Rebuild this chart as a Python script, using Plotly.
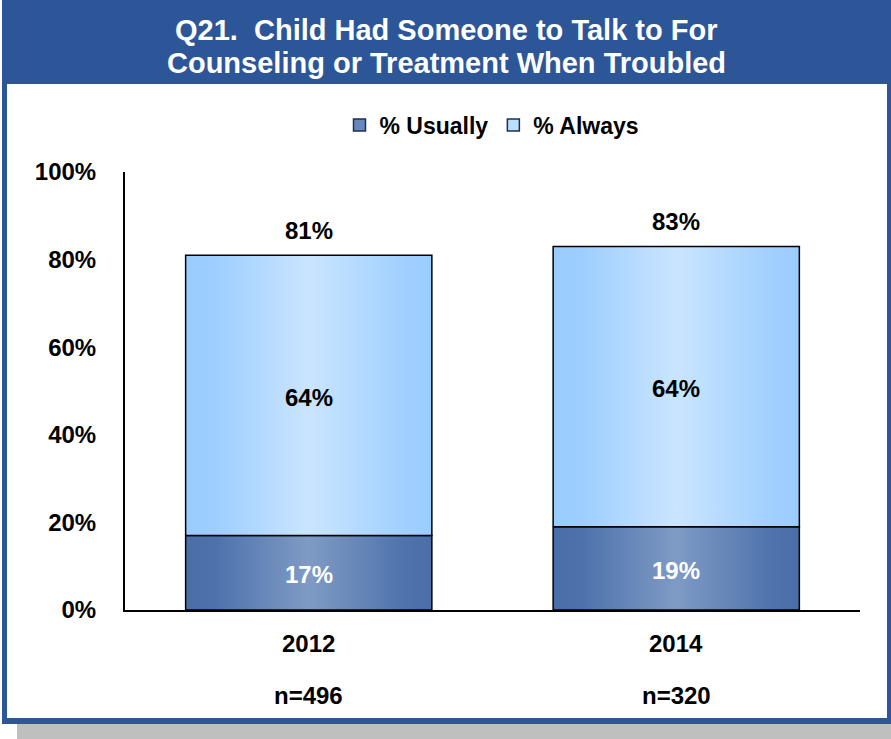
import plotly.graph_objects as go

# ---- data -------------------------------------------------------------
years = ["2012", "2014"]
sample_sizes = ["n=496", "n=320"]
pct_usually = [17, 19]
pct_always = [64, 64]
y_ticks = [0, 20, 40, 60, 80, 100]
y_tick_labels = ["0%", "20%", "40%", "60%", "80%", "100%"]
series_names = ["% Usually", "% Always"]
title_lines = ["Q21.  Child Had Someone to Talk to For",
               "Counseling or Treatment When Troubled"]

# ---- page geometry -----------------------------------------------------
W, H = 891, 739
L, R, T, B = 125, 31, 172, 129
PW = W - L - R
PH = H - T - B


def px_x(px):
    return (px - L) / PW


def px_y(py):
    return (H - B - py) / PH


FONT = "Arial, Liberation Sans, sans-serif"
BAR_HALF = 0.335
FRAME_BLUE = "#2C5697"

usually_scale = [[0, "#4A6EA8"], [0.12, "#4D72AB"], [0.5, "#7F9BC5"],
                 [0.88, "#4F74AC"], [1, "#4A6EA8"]]
always_scale = [[0, "#99CCFF"], [0.12, "#9ECEFF"], [0.5, "#CAE5FE"],
                [0.88, "#A2D0FF"], [1, "#99CCFF"]]

series = [
    (series_names[0], pct_usually, usually_scale, "#6688BE", "white"),
    (series_names[1], pct_always, always_scale, "#BBDDFE", "black"),
]

fig = go.Figure()
annotations = []

# stacked bars drawn as filled outlines with a horizontal gradient
bases = [0] * len(years)
for name, values, scale, legend_color, label_color in series:
    for i, v in enumerate(values):
        b = bases[i]
        t = b + v
        x0, x1 = i - BAR_HALF, i + BAR_HALF
        fig.add_trace(go.Scatter(
            x=[x0, x1, x1, x0, x0], y=[b, b, t, t, b],
            mode="lines", fill="toself",
            fillgradient=dict(type="horizontal", colorscale=scale),
            line=dict(color="black", width=1.5),
            showlegend=False, hoverinfo="skip",
        ))
        annotations.append(dict(
            x=i, y=(b + t) / 2, xref="x", yref="y", text=f"{v}%",
            xanchor="center", yanchor="middle", yshift=-2,
            showarrow=False, font=dict(size=24, color=label_color),
        ))
        bases[i] = t
    # legend swatch
    fig.add_trace(go.Scatter(
        x=[None], y=[None], mode="markers", name=name,
        marker=dict(symbol="square", size=12, color=legend_color,
                    line=dict(color="#1F2F4F", width=1.5)),
    ))

# totals above each stack, category and sample-size labels below
for i, total in enumerate(bases):
    annotations.append(dict(
        x=i, y=total, xref="x", yref="y", text=f"{total}%", yshift=25,
        xanchor="center", yanchor="middle",
        showarrow=False, font=dict(size=24, color="black"),
    ))
    annotations.append(dict(
        x=i, y=0, xref="x", yref="y", text=years[i], yshift=-33,
        xanchor="center", yanchor="middle",
        showarrow=False, font=dict(size=24, color="black"),
    ))
    annotations.append(dict(
        x=i, y=0, xref="x", yref="y", text=sample_sizes[i], yshift=-85,
        xanchor="center", yanchor="middle",
        showarrow=False, font=dict(size=24, color="black"),
    ))

# two-line title in the banner
for line, ypx in zip(title_lines, [30, 63]):
    annotations.append(dict(
        x=px_x(446), y=px_y(ypx), xref="paper", yref="paper",
        xanchor="center", yanchor="middle",
        text=line, showarrow=False,
        font=dict(size=29, color="white"),
    ))

# frame, banner and drop shadow
shapes = [
    dict(type="rect", xref="paper", yref="paper", layer="below",
         x0=px_x(17), x1=px_x(891), y0=px_y(739), y1=px_y(724),
         fillcolor="#BFBFBF", line=dict(width=0)),
    dict(type="rect", xref="paper", yref="paper", layer="below",
         x0=px_x(2), x1=px_x(891), y0=px_y(724), y1=px_y(0),
         fillcolor=FRAME_BLUE, line=dict(width=0)),
    dict(type="rect", xref="paper", yref="paper", layer="below",
         x0=px_x(7), x1=px_x(887), y0=px_y(718), y1=px_y(84),
         fillcolor="white", line=dict(width=0)),
]

fig.update_layout(
    width=W, height=H,
    margin=dict(l=L, r=R, t=T, b=B, pad=0, autoexpand=False),
    paper_bgcolor="white", plot_bgcolor="rgba(0,0,0,0)",
    font=dict(family=FONT, size=24, color="black", weight="bold"),
    showlegend=True,
    legend=dict(orientation="h", x=px_x(492), xanchor="center",
                y=px_y(125), yanchor="middle", bgcolor="rgba(0,0,0,0)",
                font=dict(size=23), itemwidth=30, traceorder="normal"),
    xaxis=dict(range=[-0.5, 1.5], showline=True, linecolor="black",
               linewidth=2, showgrid=False, zeroline=False,
               showticklabels=False, ticks="", fixedrange=True),
    yaxis=dict(range=[0, 100], tickvals=y_ticks, ticktext=y_tick_labels,
               showline=True, linecolor="black", linewidth=2,
               showgrid=False, zeroline=False, ticks="",
               ticklabelstandoff=22, tickfont=dict(size=24),
               fixedrange=True),
    shapes=shapes,
    annotations=annotations,
    hovermode=False,
)

fig.write_html("out.html")
